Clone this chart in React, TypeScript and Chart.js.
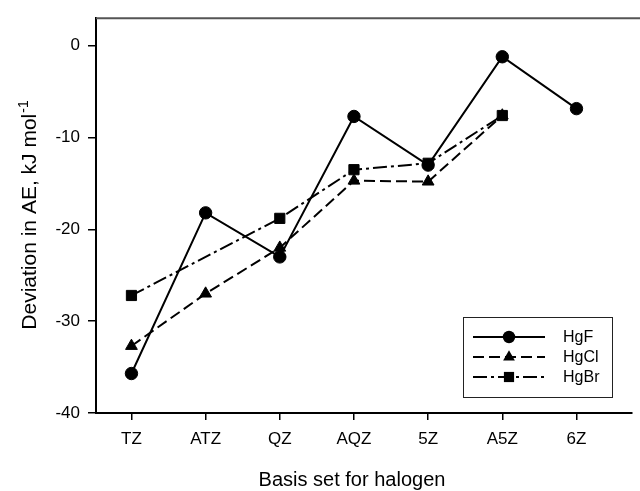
import React, { useEffect, useRef } from "react";
import { Chart, registerables } from "chart.js";

Chart.register(...registerables);

const categories = ["TZ", "ATZ", "QZ", "AQZ", "5Z", "A5Z", "6Z"];
const hgF = [-35.7, -18.2, -23.0, -7.7, -13.0, -1.2, -6.85];
const hgCl = [-32.7, -27.0, -22.0, -14.7, -14.8, -7.6, null];
const hgBr = [-27.2, null, -18.8, -13.5, -12.8, -7.6, null];
const yTicks = [-40, -30, -20, -10, 0];
const seriesNames = ["HgF", "HgCl", "HgBr"];
const xTitle = "Basis set for halogen";
const yTitleMain = "Deviation in AE, kJ mol";
const yTitleSup = "-1";

const FONT = '"Liberation Sans", Arial, sans-serif';

function toPoints(vals: (number | null)[]) {
  const out: { x: number; y: number }[] = [];
  vals.forEach((v, i) => {
    if (v !== null) out.push({ x: i, y: v });
  });
  return out;
}

function drawMarker(ctx: CanvasRenderingContext2D, style: string, r: number, x: number, y: number) {
  ctx.beginPath();
  if (style === "circle") {
    ctx.arc(x, y, r, 0, Math.PI * 2);
  } else if (style === "triangle") {
    for (let k = 0; k < 3; k++) {
      const a = (k * 2 * Math.PI) / 3;
      const px = x + Math.sin(a) * r;
      const py = y - Math.cos(a) * r;
      if (k === 0) ctx.moveTo(px, py);
      else ctx.lineTo(px, py);
    }
    ctx.closePath();
  } else {
    const s = Math.SQRT1_2 * r;
    ctx.rect(x - s, y - s, 2 * s, 2 * s);
  }
  ctx.fillStyle = "#000";
  ctx.fill();
}

const overlayPlugin = {
  id: "overlay",
  afterDraw(chart: any) {
    const ctx: CanvasRenderingContext2D = chart.ctx;
    const ca = chart.chartArea;
    ctx.save();
    // top frame line
    ctx.strokeStyle = "#555";
    ctx.lineWidth = 2;
    ctx.beginPath();
    ctx.moveTo(ca.left, ca.top);
    ctx.lineTo(chart.width, ca.top);
    ctx.stroke();

    // x title
    ctx.fillStyle = "#000";
    ctx.font = `20px ${FONT}`;
    ctx.textAlign = "center";
    ctx.textBaseline = "alphabetic";
    ctx.fillText(xTitle, 352, 486);

    // y title with superscript
    ctx.save();
    ctx.translate(36, 215);
    ctx.rotate(-Math.PI / 2);
    ctx.font = `21px ${FONT}`;
    const w1 = ctx.measureText(yTitleMain).width;
    ctx.font = `14px ${FONT}`;
    const w2 = ctx.measureText(yTitleSup).width;
    const start = -(w1 + w2 + 1) / 2;
    ctx.textAlign = "left";
    ctx.font = `21px ${FONT}`;
    ctx.fillText(yTitleMain, start, 0);
    ctx.font = `14px ${FONT}`;
    ctx.fillText(yTitleSup, start + w1 + 1, -8);
    ctx.restore();

    // legend
    ctx.fillStyle = "#fff";
    ctx.fillRect(463.5, 317.5, 149, 80);
    ctx.strokeStyle = "#222";
    ctx.lineWidth = 1;
    ctx.strokeRect(463.5, 317.5, 149, 80);
    chart.data.datasets.forEach((ds: any, i: number) => {
      const y = 337 + i * 20;
      ctx.save();
      ctx.strokeStyle = "#000";
      ctx.lineWidth = 2;
      ctx.setLineDash(ds.borderDash || []);
      ctx.beginPath();
      ctx.moveTo(473, y);
      ctx.lineTo(545, y);
      ctx.stroke();
      ctx.restore();
      drawMarker(ctx, ds.pointStyle, ds.pointRadius, 509, y);
      ctx.fillStyle = "#000";
      ctx.font = `16px ${FONT}`;
      ctx.textAlign = "left";
      ctx.textBaseline = "middle";
      ctx.fillText(seriesNames[i], 563, y + 1);
    });
    ctx.restore();
  },
};

export default function App() {
  const ref = useRef<HTMLCanvasElement | null>(null);

  useEffect(() => {
    if (!ref.current) return;
    const tickFont = { family: FONT, size: 17 };
    const chart = new Chart(ref.current, {
      type: "line",
      data: {
        datasets: [
          {
            label: seriesNames[0],
            data: toPoints(hgF),
            borderColor: "#000",
            backgroundColor: "#000",
            borderWidth: 2,
            pointStyle: "circle",
            pointRadius: 6.2,
            pointBorderWidth: 1,
            pointBackgroundColor: "#000",
            pointBorderColor: "#000",
            borderDash: [],
          },
          {
            label: seriesNames[1],
            data: toPoints(hgCl),
            borderColor: "#000",
            backgroundColor: "#000",
            borderWidth: 2,
            pointStyle: "triangle",
            pointRadius: 6.8,
            pointBorderWidth: 1,
            pointBackgroundColor: "#000",
            pointBorderColor: "#000",
            borderDash: [11, 5],
          },
          {
            label: seriesNames[2],
            data: toPoints(hgBr),
            borderColor: "#000",
            backgroundColor: "#000",
            borderWidth: 2,
            pointStyle: "rect",
            pointRadius: 7.2,
            pointBorderWidth: 1,
            pointBackgroundColor: "#000",
            pointBorderColor: "#000",
            borderDash: [14, 4, 3, 4],
          },
        ] as any,
      },
      options: {
        animation: false,
        responsive: false,
        devicePixelRatio: 1,
        layout: { padding: { top: 15, left: 0, right: 0, bottom: 0 } },
        plugins: { legend: { display: false }, tooltip: { enabled: false } },
        elements: { line: { tension: 0 } },
        scales: {
          x: {
            type: "linear",
            min: -0.478,
            max: 6.746,
            afterBuildTicks: (s: any) => {
              s.ticks = categories.map((_, i) => ({ value: i }));
            },
            afterFit: (s: any) => {
              s.height = 78;
            },
            ticks: {
              callback: (v: any) => categories[v] ?? "",
              font: tickFont,
              color: "#000",
              padding: 9,
              autoSkip: false,
              maxRotation: 0,
            },
            grid: {
              display: true,
              drawOnChartArea: false,
              drawTicks: true,
              tickLength: 7,
              color: "#000",
              lineWidth: 1.5,
            },
            border: { display: true, color: "#000", width: 2 },
          },
          y: {
            type: "linear",
            min: -40,
            max: 3,
            afterBuildTicks: (s: any) => {
              s.ticks = yTicks.map((v) => ({ value: v }));
            },
            afterFit: (s: any) => {
              s.width = 96;
            },
            ticks: {
              font: tickFont,
              color: "#000",
              padding: 8,
            },
            grid: {
              display: true,
              drawOnChartArea: false,
              drawTicks: true,
              tickLength: 8,
              color: "#000",
              lineWidth: 1.5,
            },
            border: { display: true, color: "#000", width: 2 },
          },
        },
      } as any,
      plugins: [overlayPlugin],
    });
    return () => chart.destroy();
  }, []);

  return (
    <div style={{ position: "absolute", left: 0, top: 0, width: 640, height: 491, background: "#fff" }}>
      <canvas ref={ref} width={640} height={491} style={{ display: "block" }} />
    </div>
  );
}
